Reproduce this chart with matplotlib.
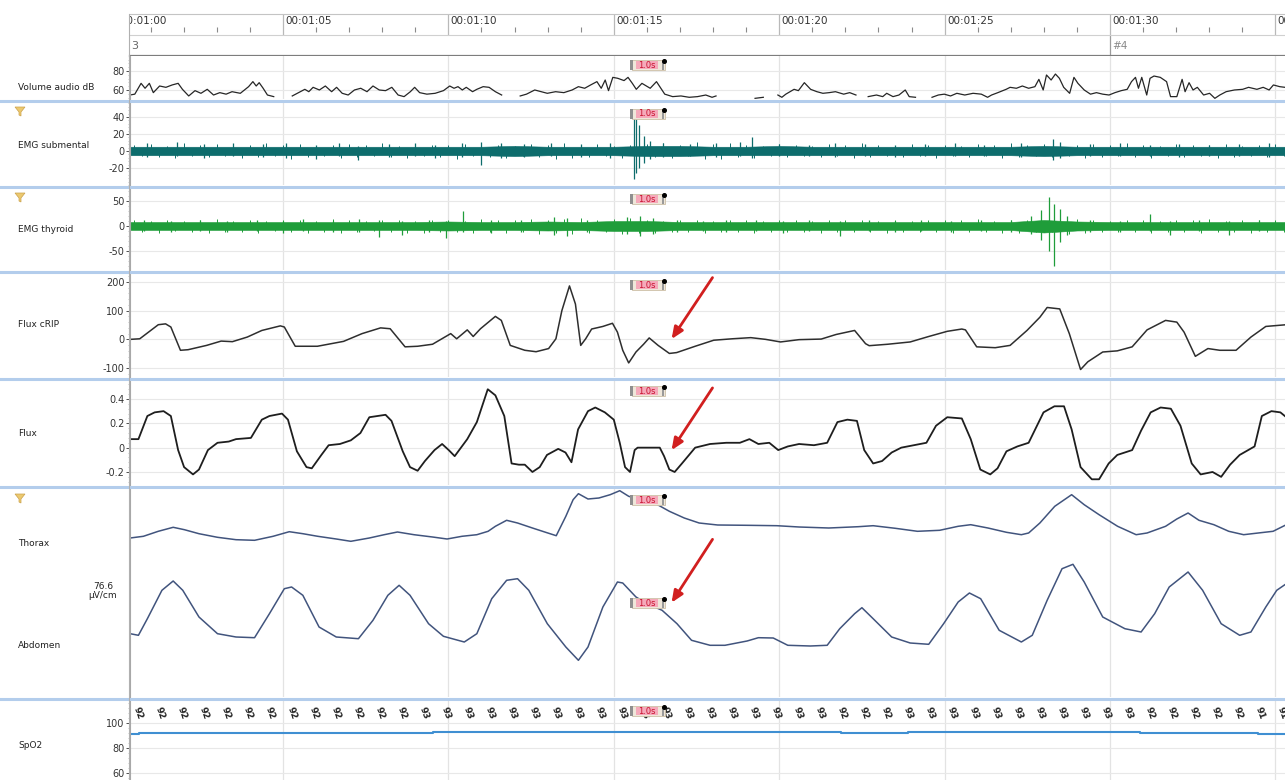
import numpy as np
import matplotlib
matplotlib.use('Agg')
import matplotlib.pyplot as plt
import matplotlib.transforms as mtransforms
from matplotlib.lines import Line2D
from matplotlib.patches import Polygon, Rectangle
from matplotlib.ticker import AutoMinorLocator

nan = np.nan

# ---- signals, time in seconds ----
vol_t = [60.37, 60.52, 60.71, 60.83, 60.96, 61.08, 61.27, 61.46, 61.65, 61.83,
         61.96, 62.15, 62.34, 62.52, 62.71, 62.90, 63.09, 63.28, 63.46, 63.71,
         63.96, 64.09, 64.19, 64.28, 64.40, 64.53, 64.72, 64.90, 65.28, 65.47,
         65.66, 65.78, 65.91, 66.10, 66.28, 66.47, 66.62, 66.79, 66.97, 67.16,
         67.35, 67.54, 67.72, 67.91, 68.10, 68.29, 68.48, 68.66, 68.85, 68.98,
         69.13, 69.35, 69.60, 69.85, 70.04, 70.17, 70.29, 70.42, 70.54, 70.73,
         70.86, 71.05, 71.23, 71.42, 71.61, 71.76, 72.17, 72.36, 72.61, 72.80,
         72.99, 73.24, 73.49, 73.74, 73.93, 74.12, 74.30, 74.49, 74.62, 74.74,
         74.84, 74.97, 75.12, 75.31, 75.43, 75.56, 75.68, 75.85, 76.10, 76.29,
         76.54, 76.78, 77.03, 77.28, 77.53, 77.78, 77.97, 78.09, 78.28, 78.71,
         79.27, 79.52, 79.77, 79.96, 80.08, 80.20, 80.45, 80.58, 80.76, 80.95,
         81.14, 81.32, 81.51, 81.70, 81.95, 82.13, 82.32, 82.50, 82.69, 82.94,
         83.13, 83.25, 83.44, 83.62, 83.81, 83.93, 84.12, 84.37, 84.62, 84.81,
         84.99, 85.18, 85.37, 85.61, 85.86, 86.11, 86.30, 86.42, 86.61, 86.86,
         86.98, 87.17, 87.35, 87.54, 87.73, 87.85, 87.98, 88.08, 88.22, 88.35,
         88.47, 88.60, 88.78, 88.91, 89.03, 89.22, 89.41, 89.59, 89.78, 89.97,
         90.15, 90.34, 90.52, 90.65, 90.77, 90.86, 90.96, 91.11, 91.21, 91.33,
         91.52, 91.71, 91.83, 92.02, 92.18, 92.27, 92.39, 92.51, 92.64, 92.83,
         93.01, 93.17, 93.32, 93.51, 93.76, 94.01, 94.19, 94.44, 94.63, 94.81,
         94.94, 95.13, 95.29]
vol_db = [54.7, 55.6, 67.0, 61.8, 67.0, 57.2, 64.2, 62.8, 65.3, 67.0,
          60.7, 53.7, 59.3, 56.5, 60.7, 54.7, 57.2, 55.6, 58.2, 56.5,
          63.5, 68.8, 64.2, 67.7, 61.8, 54.7, 53.0, nan, 53.7, 57.2,
          60.7, 58.2, 62.8, 60.0, 64.2, 58.2, 62.8, 56.5, 54.7, 60.0,
          61.8, 58.2, 64.2, 60.0, 59.3, 62.8, 54.7, 53.0, 58.2, 62.8,
          57.2, 55.6, 56.5, 59.3, 64.2, 61.8, 63.5, 60.0, 62.8, 58.2,
          60.7, 63.5, 62.8, 58.2, 54.7, nan, 53.7, 55.6, 60.0, 58.2,
          56.5, 58.2, 57.2, 60.0, 63.5, 61.8, 65.3, 68.8, 61.8, 70.5,
          59.3, 73.3, 72.3, 69.9, 73.3, 67.0, 60.7, 67.0, 61.8, 68.8,
          55.6, 53.0, 53.7, 52.3, 53.0, 54.7, 52.3, 53.7, nan, nan,
          51.2, 52.3, nan, 54.7, 52.3, 55.6, 60.7, 59.3, 67.7, 60.7,
          58.2, 56.5, 57.2, 58.2, 55.6, 57.2, 54.7, nan, 53.0, 54.7,
          53.0, 56.5, 53.0, 54.7, 60.0, 53.0, 52.3, nan, 52.3, 54.7,
          55.6, 53.7, 56.5, 54.7, 56.5, 55.6, 52.3, 54.7, 57.2, 60.7,
          62.8, 61.8, 64.2, 61.8, 63.5, 71.2, 60.0, 75.8, 70.5, 76.8,
          72.3, 62.8, 56.5, 73.3, 67.0, 60.0, 55.6, 57.2, 55.6, 54.7,
          57.2, 59.3, 60.7, 68.8, 73.3, 61.8, 73.3, 54.7, 72.3, 74.7,
          73.3, 68.8, 53.0, 53.0, 71.2, 58.2, 67.7, 60.0, 62.8, 54.7,
          56.5, 51.2, 54.7, 58.2, 60.0, 60.7, 62.8, 60.7, 62.8, 60.0,
          65.3, 63.5, 62.8]

# EMG: per-second core band, half-second fringe peaks, and individual bursts
emg_sec = list(range(60, 97))
sub_hi = [5, 5, 5, 5, 5, 5, 5, 5, 5, 5, 5, 5, 6, 5, 5, 5, 6, 6, 5, 5, 6, 5, 5, 5, 5, 5, 5, 5, 6, 5, 5, 5, 5, 5, 5, 5, 5]
sub_lo = [-5, -5, -5, -5, -5, -5, -5, -5, -5, -5, -5, -5, -6, -5, -5, -5, -6, -6, -5, -5, -5, -5, -5, -5, -5, -5, -5, -5, -6, -5, -5, -5, -5, -5, -5, -5, -5]
fringe_t0, fringe_dt = 60.5, 0.5
sub_fr_hi = [7, 8, 6, 9, 7, 8, 6, 7, 9, 7, 8, 6, 7, 8, 7, 9, 6, 8, 7, 7,
             8, 9, 7, 6, 8, 7, 9, 7, 8, 6, 7, 8, 9, 7, 10, 8, 9, 7, 6, 8,
             7, 6, 8, 7, 9, 7, 6, 8, 7, 7, 6, 8, 7, 9, 7, 8, 6, 7, 8, 7,
             9, 7, 6, 8, 7, 7, 8, 6, 7, 8]
sub_fr_lo = [-6, -7, -8, -6, -7, -6, -8, -7, -6, -9, -7, -6, -8, -7, -6, -7, -8, -6, -7, -9,
             -6, -7, -8, -6, -7, -9, -8, -7, -6, -8, -9, -7, -8, -6, -10, -9, -7, -8, -6, -7,
             -6, -7, -6, -8, -7, -6, -7, -6, -8, -6, -7, -6, -8, -7, -6, -7, -6, -8, -7, -6,
             -7, -8, -6, -7, -6, -8, -7, -6, -7, -6]
sub_spk_t = [60.9, 61.8, 62.6, 63.5, 64.4, 65.1, 66.0, 66.7, 67.27, 68.2, 69.0, 69.6, 70.4,
             71.0, 71.6, 72.3, 73.1, 74.0, 74.9, 75.62, 75.68, 75.75, 75.9, 76.1, 76.5,
             77.3, 78.1, 78.8, 79.19, 80.0, 80.9, 81.7, 82.6, 83.5, 84.4, 85.3, 86.2,
             87.3, 88.27, 88.5, 89.4, 90.3, 91.2, 92.1, 93.0, 93.9, 94.8]
sub_spk_hi = [9, 10, 8, 9, 8, 9, 7, 9, 6, 8, 9, 7, 9,
              11, 9, 8, 9, 8, 9, 45, 38, 30, 18, 12, 9,
              8, 9, 10, 16, 8, 7, 9, 8, 7, 8, 9, 7,
              9, 14, 10, 8, 9, 7, 8, 7, 8, 9]
sub_spk_lo = [-7, -6, -8, -6, -7, -8, -9, -6, -11, -7, -6, -8, -7,
              -16, -8, -7, -6, -7, -8, -33, -26, -20, -14, -10, -7,
              -6, -7, -6, -8, -6, -6, -7, -6, -7, -6, -6, -6,
              -7, -11, -8, -6, -6, -6, -7, -6, -6, -7]

thy_hi = [8, 8, 8, 8, 8, 8, 8, 8, 8, 8, 9, 8, 8, 9, 8, 10, 10, 8, 8, 8, 8, 8, 8, 8, 8, 8, 8, 8, 12, 9, 8, 8, 8, 8, 8, 8, 8]
thy_lo = [-8, -8, -8, -8, -8, -8, -8, -8, -8, -8, -9, -8, -8, -9, -8, -10, -10, -8, -8, -8, -8, -8, -8, -8, -8, -8, -8, -8, -13, -9, -8, -8, -8, -8, -8, -8, -8]
thy_fr_hi = [12, 10, 13, 11, 12, 14, 10, 12, 11, 13, 12, 10, 14, 12, 11, 13, 12, 10, 13, 12,
             11, 14, 12, 13, 15, 12, 14, 16, 13, 15, 16, 12, 11, 13, 12, 11, 12, 13, 11, 12,
             13, 11, 12, 12, 13, 11, 12, 11, 12, 13, 12, 14, 11, 12, 13, 11, 12, 14, 12, 11,
             13, 12, 11, 13, 12, 14, 11, 12, 13, 12]
thy_fr_lo = [-11, -13, -10, -12, -14, -11, -12, -13, -10, -12, -14, -11, -13, -12, -10, -12, -14, -13, -11, -12,
             -13, -11, -14, -12, -15, -13, -16, -14, -12, -15, -14, -13, -12, -11, -13, -12, -11, -13, -12, -11,
             -12, -13, -11, -12, -11, -13, -12, -11, -12, -13, -11, -12, -14, -13, -12, -11, -15, -13, -12, -11,
             -12, -13, -12, -11, -13, -12, -11, -13, -12, -11]
thy_spk_t = [60.8, 61.6, 62.5, 63.3, 64.2, 65.0, 65.6, 66.5, 67.3, 67.9, 68.6, 69.4, 69.92,
             70.43, 71.3, 72.2, 73.2, 73.6, 74.2, 75.4, 75.8, 76.2, 76.9, 77.7, 78.4,
             79.3, 80.1, 80.9, 81.84, 82.7, 83.5, 84.3, 85.2, 86.1, 87.0, 87.6, 87.9,
             88.15, 88.3, 88.5, 88.7, 89.4, 90.3, 91.2, 91.8, 92.7, 93.6, 94.5]
thy_spk_hi = [12, 10, 13, 10, 12, 11, 14, 10, 15, 12, 11, 12, 10,
              31, 12, 13, 18, 16, 12, 18, 20, 17, 12, 11, 13,
              12, 11, 12, 10, 12, 11, 12, 11, 12, 13, 20, 32,
              59, 45, 35, 20, 12, 11, 25, 10, 12, 11, 13]
thy_spk_lo = [-10, -12, -9, -12, -10, -14, -10, -12, -12, -22, -18, -11, -23,
              -12, -14, -11, -18, -20, -11, -16, -20, -15, -11, -10, -12,
              -10, -13, -10, -20, -10, -12, -10, -11, -10, -12, -15, -28,
              -50, -79, -32, -18, -11, -12, -10, -18, -10, -18, -10]

crip_t = [60.38, 60.67, 61.23, 61.45, 61.61, 61.90, 62.13, 62.69, 63.13, 63.47,
          63.92, 64.36, 64.92, 65.04, 65.37, 66.04, 66.83, 67.39, 67.95, 68.24,
          68.69, 69.07, 69.52, 70.07, 70.25, 70.57, 70.75, 70.97, 71.42, 71.60,
          71.87, 72.31, 72.65, 73.03, 73.25, 73.43, 73.66, 73.84, 74.00, 74.15,
          74.33, 74.67, 74.96, 75.11, 75.27, 75.45, 75.67, 75.90, 76.07, 76.34,
          76.68, 76.90, 77.46, 78.02, 78.58, 79.14, 79.59, 80.04, 80.60, 81.27,
          81.72, 82.28, 82.61, 82.72, 83.28, 83.96, 84.52, 85.08, 85.52, 85.63,
          85.97, 86.53, 86.98, 87.49, 87.88, 88.10, 88.48, 88.77, 89.11, 89.33,
          89.78, 90.22, 90.67, 91.12, 91.68, 92.02, 92.24, 92.58, 92.96, 93.32,
          93.81, 94.26, 94.71, 95.33]
crip_v = [0, 2, 51, 54, 43, -38, -36, -21, -6, -8,
          8, 31, 47, 43, -24, -24, -7, 20, 40, 37,
          -26, -24, -17, 20, 2, 33, 10, 37, 80, 66,
          -21, -38, -43, -32, 2, 100, 186, 123, -21, 2,
          36, 45, 56, 25, -38, -82, -44, -17, 5, -21,
          -49, -46, -24, -3, 2, 6, 0, -9, -1, 1,
          17, 31, -15, -22, -17, -9, 10, 28, 36, 33,
          -26, -29, -21, 31, 77, 111, 106, 20, -105, -78,
          -44, -40, -26, 33, 66, 60, 25, -59, -32, -38,
          -38, 8, 45, 51]

flux_t = [60.38, 60.63, 60.90, 61.12, 61.39, 61.61, 61.83, 62.01, 62.28, 62.46,
          62.73, 63.02, 63.36, 63.58, 64.03, 64.36, 64.59, 64.97, 65.15, 65.42,
          65.71, 65.87, 66.16, 66.38, 66.72, 67.05, 67.34, 67.61, 68.10, 68.28,
          68.62, 68.84, 69.07, 69.29, 69.58, 69.81, 70.01, 70.19, 70.57, 70.86,
          71.19, 71.42, 71.69, 71.91, 72.13, 72.31, 72.54, 72.76, 72.98, 73.32,
          73.54, 73.72, 73.92, 74.22, 74.44, 74.73, 75.00, 75.18, 75.34, 75.49,
          75.63, 75.72, 76.39, 76.52, 76.68, 76.84, 77.06, 77.46, 77.91, 78.40,
          78.81, 79.10, 79.37, 79.70, 79.97, 80.26, 80.60, 81.05, 81.45, 81.76,
          82.06, 82.35, 82.57, 82.84, 83.11, 83.40, 83.69, 84.07, 84.45, 84.74,
          85.08, 85.52, 85.79, 86.08, 86.38, 86.60, 86.87, 87.20, 87.54, 87.99,
          88.32, 88.61, 88.84, 89.11, 89.45, 89.67, 89.96, 90.22, 90.67, 90.94,
          91.23, 91.53, 91.84, 92.13, 92.47, 92.74, 93.10, 93.36, 93.63, 93.92,
          94.37, 94.59, 94.88, 95.15, 95.33]
flux_v = [0.07, 0.07, 0.26, 0.29, 0.30, 0.26, -0.02, -0.16, -0.22, -0.18,
          -0.02, 0.04, 0.05, 0.07, 0.08, 0.23, 0.26, 0.28, 0.23, -0.03,
          -0.16, -0.17, -0.06, 0.02, 0.03, 0.06, 0.12, 0.25, 0.27, 0.22,
          -0.03, -0.16, -0.19, -0.11, -0.02, 0.03, -0.02, -0.07, 0.07, 0.21,
          0.48, 0.43, 0.26, -0.13, -0.14, -0.14, -0.20, -0.16, -0.06, -0.01,
          -0.04, -0.12, 0.15, 0.30, 0.33, 0.29, 0.23, 0.04, -0.16, -0.20,
          -0.02, 0.00, 0.00, -0.07, -0.18, -0.20, -0.13, 0.00, 0.03, 0.04,
          0.04, 0.07, 0.03, 0.04, -0.02, 0.01, 0.03, 0.02, 0.04, 0.21,
          0.23, 0.22, -0.02, -0.13, -0.11, -0.04, 0.00, 0.02, 0.04, 0.18,
          0.25, 0.24, 0.07, -0.18, -0.22, -0.17, -0.03, 0.01, 0.04, 0.29,
          0.34, 0.34, 0.15, -0.16, -0.26, -0.26, -0.13, -0.06, -0.02, 0.14,
          0.29, 0.33, 0.32, 0.18, -0.13, -0.22, -0.20, -0.24, -0.14, -0.06,
          0.01, 0.26, 0.30, 0.29, 0.25]

# RIP belts, arbitrary units around each belt's own baseline
thorax_t = [60.38, 60.78, 61.23, 61.68, 62.02, 62.46, 63.02, 63.58, 64.14, 64.70,
            65.19, 65.60, 66.05, 66.61, 67.05, 67.61, 68.06, 68.46, 68.96, 69.52,
            69.96, 70.41, 70.86, 71.20, 71.42, 71.76, 72.09, 72.54, 72.94, 73.26,
            73.55, 73.77, 73.93, 74.22, 74.55, 74.89, 75.18, 75.45, 75.79, 76.23,
            76.68, 77.13, 77.58, 78.14, 79.03, 79.93, 80.60, 81.50, 82.39, 82.84,
            83.51, 84.18, 84.85, 85.41, 85.79, 86.31, 86.87, 87.32, 87.54, 87.88,
            88.33, 88.84, 89.22, 89.67, 90.23, 90.79, 91.12, 91.68, 92.02, 92.36,
            92.69, 93.14, 93.59, 94.04, 94.48, 94.93, 95.33]
thorax_v = [0, 1.7, 6.7, 10.7, 8.3, 4.3, 0.7, -1.7, -2.3, 1.7,
            6.3, 4.3, 1.7, -1, -3.3, 0, 3.3, 6, 3.3, 1,
            -1, 1.7, 3.3, 6.7, 11.7, 17.7, 15, 10, 5.7, 2.3,
            21.7, 38.3, 44.3, 39, 40, 43.3, 47.3, 41.7, 38.3, 35,
            26.7, 20, 15, 13, 12.7, 12.3, 11, 10, 11.3, 12.3,
            9.7, 6.7, 7.7, 11.7, 13.3, 10, 5.7, 3.3, 5, 15,
            31.7, 43.3, 33.3, 23.3, 11.7, 3.3, 5, 11.7, 19, 25,
            17.7, 13.3, 6.7, 3.3, 5, 6.7, 13.3]
abdo_t = [60.38, 60.63, 60.90, 61.34, 61.68, 61.97, 62.46, 63.02, 63.58, 64.14,
          64.59, 65.04, 65.26, 65.60, 66.09, 66.61, 67.28, 67.72, 68.17, 68.51,
          68.84, 69.40, 69.85, 70.48, 70.86, 71.31, 71.76, 72.09, 72.43, 72.99,
          73.55, 73.93, 74.22, 74.67, 75.11, 75.27, 75.67, 76.01, 76.46, 76.91,
          77.35, 77.91, 78.36, 79.03, 79.37, 79.82, 80.26, 80.94, 81.45, 81.83,
          82.28, 82.50, 82.84, 83.40, 83.96, 84.52, 84.97, 85.41, 85.75, 86.09,
          86.65, 87.32, 87.65, 88.10, 88.55, 88.88, 89.22, 89.78, 90.45, 90.94,
          91.35, 91.79, 92.36, 92.80, 93.36, 93.92, 94.26, 94.71, 95.04, 95.33]
abdo_v = [3.3, 1.7, 18.3, 46.7, 56, 46.7, 20, 3.3, 0, -0.7,
          23.3, 48.3, 50, 41.7, 10, 0, -1.7, 16.7, 41.7, 51.7,
          41.7, 13.3, 0.7, -5, 3.3, 38.3, 56.7, 58.3, 46.7, 13.3,
          -10, -23.3, -10, 30, 55, 54, 40, 33.3, 26.7, 13.3,
          -3.3, -8.3, -8.3, -4, -0.7, -1, -8.3, -9, -8.3, 8.3,
          23.3, 29.3, 18.3, 0, -6, -7.3, 13.3, 35, 44, 38.3,
          6.7, -5, 1.7, 36.7, 68.3, 72.7, 55, 20, 8.3, 5,
          23.3, 50, 65, 46.7, 13.3, 1.7, 5, 30, 46.7, 53.3]

spo2_t = [60.375, 60.65, 69.53, 81.87, 83.9, 90.9, 94.47, 95.29]
spo2_v = [91, 92, 93, 92, 93, 92, 91, 91]
spo2_labels = [92] * 13 + [93] * 10 + [93] + [93] * 8 + [92] * 3 + [93] * 11 + [92] * 5 + [91, 91]
spo2_label_t0, spo2_label_dt = 60.62, 0.665

event_t, event_len = 75.55, 1.0

# ---- layout (pixels) ----
W, H = 1285, 780
LEFT = 130
T0, T1 = 60.375, 95.29

plt.rcParams['font.family'] = ['DejaVu Sans']
plt.rcParams['axes.unicode_minus'] = False
fig = plt.figure(figsize=(W / 100, H / 100), dpi=100)
fig.patch.set_facecolor('white')


def fy(y):
    return 1 - y / H


def panel(top, bottom, ylim, yticks=(), yticklabels=None):
    ax = fig.add_axes([LEFT / W, fy(bottom), (W - LEFT) / W, (bottom - top) / H])
    ax.set_xlim(T0, T1)
    ax.set_ylim(*ylim)
    for s in ['top', 'right', 'bottom']:
        ax.spines[s].set_visible(False)
    ax.spines['left'].set_color('#a8a8a8')
    ax.set_xticks([])
    ax.set_yticks(yticks)
    if yticklabels is not None:
        ax.set_yticklabels(yticklabels)
    if len(yticks):
        ax.yaxis.set_minor_locator(AutoMinorLocator(5))
        ax.grid(axis='y', color='#e8e8e8', lw=0.8)
    ax.tick_params(axis='y', labelsize=7, colors='#333333', length=3, width=0.6, pad=1)
    ax.tick_params(axis='y', which='minor', length=1.5, width=0.5, color='#aaaaaa')
    ax.set_axisbelow(True)
    for g in range(65, 96, 5):
        ax.axvline(g, color='#e3e3e3', lw=0.9, zorder=0)
    return ax


def emg(ax, color, hi, lo, fr_hi, fr_lo, spk_t, spk_hi, spk_lo):
    ax.fill_between(emg_sec, lo, hi, color=color, lw=0.4)
    # fringe: upward peaks on the half second, downward ones a quarter second later
    fr_t = np.array([fringe_t0 + i * fringe_dt for i in range(len(fr_hi))])
    ax.vlines(fr_t, 0, fr_hi, color=color, lw=0.7)
    ax.vlines(fr_t + fringe_dt / 2, fr_lo, 0, color=color, lw=0.7)
    ax.vlines(spk_t, spk_lo, spk_hi, color=color, lw=0.9)


def event_marker(ax, ypx):
    tr = mtransforms.blended_transform_factory(ax.transData, fig.transFigure)
    h = 10 / H
    yc = fy(ypx)
    ax.add_patch(Rectangle((event_t, yc - h / 2), event_len, h, transform=tr,
                           fc='#efe7da', ec='#cdbfa6', lw=0.6, zorder=6, clip_on=False))
    ax.add_patch(Rectangle((event_t + 0.12, yc - h * 0.42), 0.66, h * 0.84, transform=tr,
                           fc='#f5a9ba', ec='none', zorder=7, clip_on=False))
    ax.add_patch(Rectangle((event_t - 0.06, yc - h / 2), 0.1, h, transform=tr,
                           fc='#8f8f8f', ec='none', zorder=7, clip_on=False))
    ax.add_patch(Rectangle((event_t + 0.9, yc - h / 2), 0.07, h * 0.8, transform=tr,
                           fc='#9a9a9a', ec='none', zorder=7, clip_on=False))
    ax.plot([event_t + 0.97], [yc + h * 0.4], 'o', ms=2.6, color='black',
            transform=tr, zorder=8, clip_on=False)
    ax.text(event_t + 0.45, yc, '1.0s', transform=tr, fontsize=6, color='#c8102e',
            ha='center', va='center', zorder=9, clip_on=False)


def funnel(ypx):
    pts = [(15, ypx - 4), (25, ypx - 4), (21, ypx + 1), (21, ypx + 5), (19, ypx + 4), (19, ypx + 1)]
    fig.add_artist(Polygon([(x / W, fy(y)) for x, y in pts], closed=True,
                           transform=fig.transFigure, fc='#ecc96f', ec='#caa14c', lw=0.5))


# ---- time header ----
hax = fig.add_axes([LEFT / W, fy(35), (W - LEFT) / W, 21 / H])
hax.set_xlim(T0, T1)
hax.set_ylim(0, 1)
hax.set_xticks([])
hax.set_yticks([])
for s in ['right', 'bottom', 'left']:
    hax.spines[s].set_visible(False)
hax.spines['top'].set_color('#c4c4c4')
major = list(range(60, 100, 5))
hax.vlines(major, 0, 1, color='#b9b9b9', lw=0.9)
hax.vlines([s for s in range(61, 96) if s % 5], 0.12, 0.38, color='#8a8a8a', lw=0.8)
for m in major:
    hax.text(m + 0.07, 0.68, '00:01:%02d' % (m - 60), fontsize=7.5, color='#333333',
             va='center', ha='left', clip_on=True)

# epoch row
eax = fig.add_axes([LEFT / W, fy(55.5), (W - LEFT) / W, 20.5 / H])
eax.set_xlim(T0, T1)
eax.set_ylim(0, 1)
eax.set_xticks([])
eax.set_yticks([])
for s in ['right', 'left']:
    eax.spines[s].set_visible(False)
eax.spines['top'].set_color('#d0d0d0')
eax.spines['bottom'].set_color('#7d7d7d')
eax.spines['bottom'].set_linewidth(1.6)
eax.vlines([90], 0, 1, color='#9c9c9c', lw=0.9)
eax.text(T0 + 0.04, 0.45, '3', fontsize=8, color='#666666', va='center')
eax.text(90.08, 0.45, '#4', fontsize=7.5, color='#888888', va='center')

# ---- channels ----
ax_vol = panel(56, 99, (50.5, 95.8), [60, 80])
ax_vol.plot(vol_t, vol_db, color='#262626', lw=0.9)

ax_sub = panel(102, 185, (-40, 57.6), [-20, 0, 20, 40])
emg(ax_sub, '#0d6c6c', sub_hi, sub_lo, sub_fr_hi, sub_fr_lo, sub_spk_t, sub_spk_hi, sub_spk_lo)

ax_thy = panel(188, 270, (-88, 76), [-50, 0, 50])
emg(ax_thy, '#1f9d3a', thy_hi, thy_lo, thy_fr_hi, thy_fr_lo, thy_spk_t, thy_spk_hi, thy_spk_lo)

ax_crip = panel(273, 377, (-131, 231), [-100, 0, 100, 200])
ax_crip.plot(crip_t, crip_v, color='#2e2e2e', lw=1.1)

ax_flux = panel(380, 485, (-0.307, 0.556), [-0.2, 0, 0.2, 0.4], ['-0.2', '0', '0.2', '0.4'])
ax_flux.plot(flux_t, flux_v, color='#1e1e1e', lw=1.3)

ax_rip = panel(488, 697, (0, 209))
thorax_base, abdo_base = 159, 60
ax_rip.plot(thorax_t, np.array(thorax_v) + thorax_base, color='#41547d', lw=1.1)
ax_rip.plot(abdo_t, np.array(abdo_v) + abdo_base, color='#41547d', lw=1.1)

ax_spo2 = panel(700, 780, (54.4, 118.4), [60, 80, 100])
ax_spo2.plot(spo2_t, spo2_v, drawstyle='steps-post', color='#3f8fd2', lw=1.5)
for i, v in enumerate(spo2_labels):
    ax_spo2.text(spo2_label_t0 + i * spo2_label_dt, 108, str(v), fontsize=6.5, color='#222222',
                 rotation=-70, ha='center', va='center', fontweight='bold', clip_on=True)

# scored event on every channel
for ax, ypx in [(ax_vol, 65), (ax_sub, 114), (ax_thy, 199), (ax_crip, 285), (ax_flux, 391),
                (ax_rip, 500), (ax_rip, 603), (ax_spo2, 711)]:
    event_marker(ax, ypx)

# arrows pointing at the end of the event
arrow = dict(arrowstyle='-|>,head_length=0.7,head_width=0.3', color='#d11f1f', lw=2)
ax_crip.annotate('', xy=(76.7, -7), xytext=(78.03, 223), arrowprops=arrow, annotation_clip=False)
ax_flux.annotate('', xy=(76.7, -0.04), xytext=(78.03, 0.51), arrowprops=arrow, annotation_clip=False)
ax_rip.annotate('', xy=(76.7, 92), xytext=(78.03, 160), arrowprops=arrow, annotation_clip=False)

# ---- channel names ----
names = [('Volume audio dB', 88), ('EMG submental', 145), ('EMG thyroid', 229),
         ('Flux cRIP', 324), ('Flux', 433), ('Thorax', 543), ('Abdomen', 645), ('SpO2', 745)]
for name, ypx in names:
    fig.text(18 / W, fy(ypx), name, fontsize=6.5, color='#222222', va='center', ha='left')
fig.text(103 / W, fy(591), '76.6\nµV/cm', fontsize=6.5, color='#222222',
         ha='center', va='center', linespacing=1.1)
for ypx in [111, 197, 498]:
    funnel(ypx)

# separators between channels
for ypx in [100.5, 186.5, 271.5, 378.5, 486.5, 698.5]:
    fig.add_artist(Line2D([0, 1], [fy(ypx), fy(ypx)], transform=fig.transFigure,
                          color='#b3cdec', lw=2.2))
fig.add_artist(Line2D([129 / W, 129 / W], [fy(14), 0], transform=fig.transFigure,
                      color='#b0b0b0', lw=0.8))

fig.savefig('out.png', dpi=100, facecolor='white')
